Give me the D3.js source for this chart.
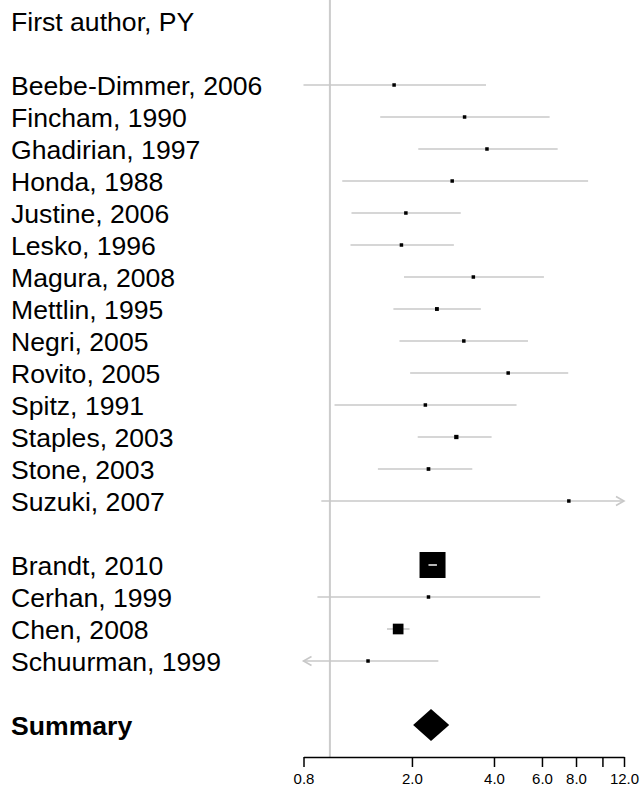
<!DOCTYPE html>
<html>
<head>
<meta charset="utf-8">
<script src="https://cdn.jsdelivr.net/npm/d3@7"></script>
<style>
  body { margin: 0; background: #fff; }
  text { font-family: "Liberation Sans", Arial, sans-serif; }
</style>
</head>
<body>
<div id="chart"></div>
<script>
// header of the label column
var header = "First author, PY";

// first block of studies
var authors1 = ["Beebe-Dimmer", "Fincham", "Ghadirian", "Honda", "Justine", "Lesko", "Magura",
                "Mettlin", "Negri", "Rovito", "Spitz", "Staples", "Stone", "Suzuki"];
var years1   = [2006, 1990, 1997, 1988, 2006, 1996, 2008, 1995, 2005, 2005, 1991, 2003, 2003, 2007];
var or1      = [1.72, 3.12, 3.77, 2.81, 1.90, 1.83, 3.36, 2.47, 3.10, 4.51, 2.24, 2.91, 2.30, 7.53];
var lower1   = [0.80, 1.53, 2.11, 1.11, 1.20, 1.19, 1.87, 1.71, 1.80, 1.97, 1.04, 2.10, 1.50, 0.93];
var upper1   = [3.74, 6.40, 6.85, 8.86, 3.02, 2.85, 6.10, 3.58, 5.33, 7.49, 4.84, 3.92, 3.33, 14.6];

// second block of studies
var authors2 = ["Brandt", "Cerhan", "Chen", "Schuurman"];
var years2   = [2010, 1999, 2008, 1999];
var or2      = [2.38, 2.30, 1.78, 1.38];
var lower2   = [2.30, 0.90, 1.62, 0.74];
var upper2   = [2.47, 5.91, 1.96, 2.50];

// pooled estimate
var summaryLabel = "Summary";
var summaryOr    = [2.35, 2.02, 2.74];   // estimate, lower, upper

// x axis
var tickValues = [0.8, 2, 4, 6, 8, 10, 12];
var tickLabels = ["0.8", "2.0", "4.0", "6.0", "8.0", "", "12.0"];

var width = 642, height = 797;

var svg = d3.select("#chart").append("svg")
    .attr("width", width)
    .attr("height", height);

//build the row list: header, blank, block 1, blank, block 2, blank, summary
var rows = [];
rows.push({label: header});
rows.push({label: ""});
authors1.forEach(function(a, i) {
  rows.push({label: a + ", " + years1[i], est: or1[i], lo: lower1[i], hi: upper1[i]});
});
rows.push({label: ""});
authors2.forEach(function(a, i) {
  rows.push({label: a + ", " + years2[i], est: or2[i], lo: lower2[i], hi: upper2[i]});
});
rows.push({label: ""});
rows.push({label: summaryLabel, est: summaryOr[0], lo: summaryOr[1], hi: summaryOr[2], summary: true});
rows.forEach(function(r, i) { r.row = i; });

var x = d3.scaleLog()
    .domain([0.8, 12])
    .range([303.5, 624]);

var y = d3.scaleLinear()
    .domain([0, rows.length - 1])
    .range([21, 725]);

var axisY = 757;
var greyLine = "#c8c8c8";

//box side follows the precision of the estimate (1 / log CI width)
var studies = rows.filter(function(r) { return r.est != null && !r.summary; });
var info = function(r) { return 1 / (Math.log(r.hi) - Math.log(r.lo)); };
var maxInfo = d3.max(studies, info);
var boxSize = function(r) { return Math.max(2, 24.5 * info(r) / maxInfo) + 1.5; };

// reference line at 1
svg.append("line")
    .attr("x1", x(1)).attr("x2", x(1))
    .attr("y1", 0).attr("y2", axisY)
    .attr("stroke", "#cccccc")
    .attr("stroke-width", 2);

// labels
svg.append("g").selectAll("text")
    .data(rows)
  .enter().append("text")
    .attr("x", 11)
    .attr("y", function(d) { return y(d.row) + 9.5; })
    .style("font-size", "26.6px")
    .style("font-weight", function(d) { return d.summary ? "bold" : "normal"; })
    .attr("fill", "#000")
    .text(function(d) { return d.label; });

var lo = x.domain()[0], hi = x.domain()[1];

// confidence intervals, clipped with arrows
var ci = svg.append("g")
    .attr("stroke", greyLine)
    .attr("stroke-width", 1.6)
    .attr("fill", "none");

studies.forEach(function(d) {
  var cy = y(d.row);
  var x1 = x(Math.max(d.lo, lo)), x2 = x(Math.min(d.hi, hi));
  ci.append("line")
      .attr("x1", x1).attr("x2", x2)
      .attr("y1", cy).attr("y2", cy);
  if (d.hi > hi) {
    ci.append("path").attr("d", "M" + (x2 - 8) + "," + (cy - 4.5) + "L" + x2 + "," + cy + "L" + (x2 - 8) + "," + (cy + 4.5));
  }
  if (d.lo < lo) {
    ci.append("path").attr("d", "M" + (x1 + 8) + "," + (cy - 4.5) + "L" + x1 + "," + cy + "L" + (x1 + 8) + "," + (cy + 4.5));
  }
});

// boxes
svg.append("g").selectAll("rect")
    .data(studies)
  .enter().append("rect")
    .attr("x", function(d) { return x(d.est) - boxSize(d) / 2; })
    .attr("y", function(d) { return y(d.row) - boxSize(d) / 2; })
    .attr("width", boxSize)
    .attr("height", boxSize)
    .attr("fill", "#000");

//intervals lying inside their own box are redrawn in white
studies.forEach(function(d) {
  var s = boxSize(d) / 2, cx = x(d.est);
  if (x(d.lo) > cx - s && x(d.hi) < cx + s) {
    svg.append("line")
        .attr("x1", x(d.lo)).attr("x2", x(d.hi))
        .attr("y1", y(d.row)).attr("y2", y(d.row))
        .attr("stroke", "#e8e8e8")
        .attr("stroke-width", 1.6);
  }
});

// summary diamond
rows.filter(function(r) { return r.summary; }).forEach(function(d) {
  var cy = y(d.row);
  svg.append("path")
      .attr("d", "M" + x(d.lo) + "," + cy +
                 "L" + x(d.est) + "," + (cy - 16) +
                 "L" + x(d.hi) + "," + cy +
                 "L" + x(d.est) + "," + (cy + 16) + "Z")
      .attr("fill", "#000");
});

// x axis
var axis = svg.append("g")
    .attr("transform", "translate(0," + axisY + ")")
    .call(d3.axisBottom(x)
        .tickValues(tickValues)
        .tickFormat(function(d, i) { return tickLabels[i]; })
        .tickSize(10)
        .tickSizeOuter(0)
        .tickPadding(6));

axis.attr("font-size", 15).attr("font-family", "Liberation Sans, Arial, sans-serif");
axis.select(".domain").attr("stroke-width", 1.5);
axis.selectAll(".tick line").attr("stroke-width", 1.5);
axis.selectAll(".tick text").attr("fill", "#000");
</script>
</body>
</html>
